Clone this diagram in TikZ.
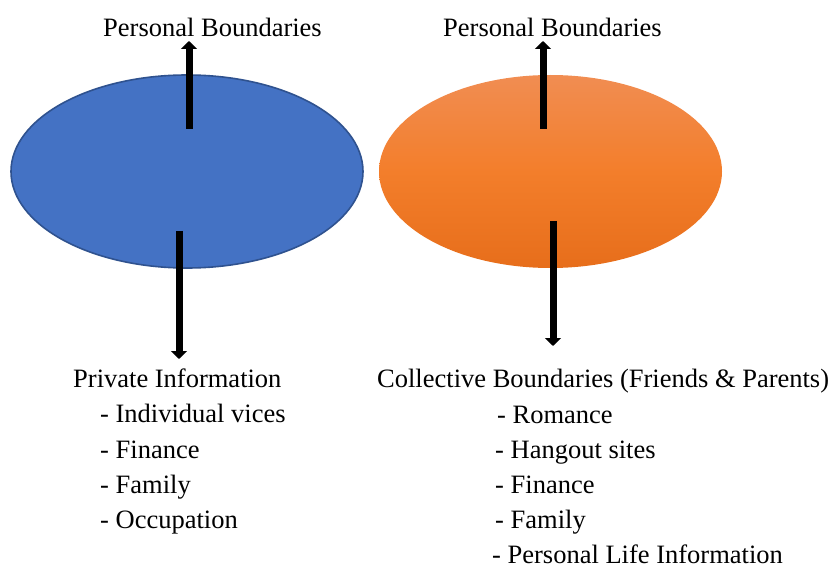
\documentclass[tikz,border=0pt]{standalone}
\usepackage{fontspec}
\setmainfont{Liberation Serif}
\usetikzlibrary{shapes.geometric,arrows.meta}
\definecolor{blueFill}{HTML}{4472C4}
\definecolor{blueEdge}{HTML}{2F528F}
\definecolor{orTop}{HTML}{F18D52}
\definecolor{orMid}{HTML}{F37E2B}
\definecolor{orBot}{HTML}{E76E1B}
\tikzset{
  lbl/.style={inner sep=0pt,anchor=base west,font=\fontsize{26.5}{30}\selectfont},
  bigarrow/.style={line width=7pt,-{Triangle[width=16pt,length=8pt]}},
}
\begin{document}
\begin{tikzpicture}[x=1pt,y=-1pt]
\useasboundingbox (0,0) rectangle (831,567);
% ellipses
\node[ellipse,draw=blueEdge,line width=1.6pt,fill=blueFill,minimum width=352,minimum height=193,inner sep=0pt] (blue) at (187,171.5) {};
\node[ellipse,top color=orTop,bottom color=orBot,middle color=orMid,minimum width=343,minimum height=193,inner sep=0pt] (orange) at (550.5,171.5) {};
% top labels
\node[lbl] (pb1) at (103,37) {Personal Boundaries};
\node[lbl] (pb2) at (443,37) {Personal Boundaries};
% left list
\node[lbl] (l0) at (73,387) {Private Information};
\node[lbl] (l1) at (100,422.5) {- Individual vices};
\node[lbl] (l2) at (100,458) {- Finance};
\node[lbl] (l3) at (100,493) {- Family};
\node[lbl] (l4) at (100,528) {- Occupation};
% right list
\node[lbl] (r0) at (377,387) {Collective Boundaries (Friends \& Parents)};
\node[lbl] (r1) at (497,423) {- Romance};
\node[lbl] (r2) at (495,458) {- Hangout sites};
\node[lbl] (r3) at (495,493) {- Finance};
\node[lbl] (r4) at (495,528) {- Family};
\node[lbl] (r5) at (492,563) {- Personal Life Information};
% arrow end points
\coordinate (a1s) at (189,129);
\coordinate (a1e) at (189,41);
\coordinate (a2s) at (179,231);
\coordinate (a2e) at (179,359);
\coordinate (a3s) at (543,129);
\coordinate (a3e) at (543,41);
\coordinate (a4s) at (553,221);
\coordinate (a4e) at (553,346);
\draw[bigarrow] (a1s) -- (a1e);
\draw[bigarrow] (a2s) -- (a2e);
\draw[bigarrow] (a3s) -- (a3e);
\draw[bigarrow] (a4s) -- (a4e);
\end{tikzpicture}
\end{document}
